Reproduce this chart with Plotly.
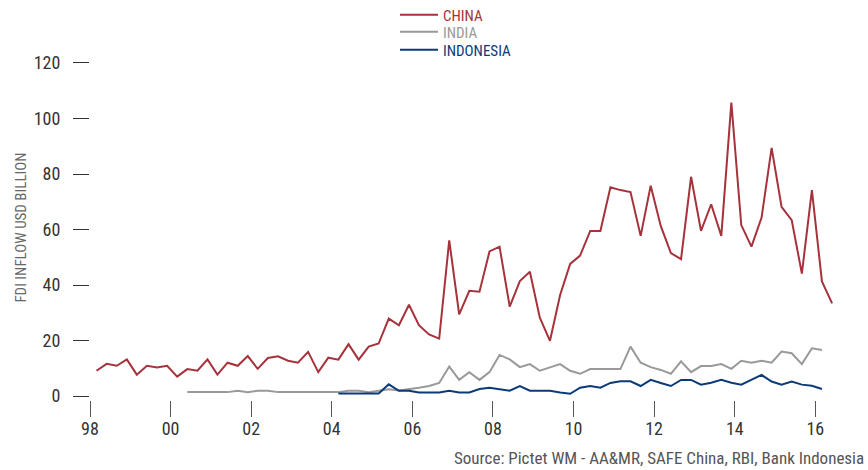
import pandas as pd
import plotly.graph_objects as go

# Quarterly observations, 1998Q1 .. 2016Q2
dates = pd.date_range(start="1998-03-01", periods=74, freq="3MS")

china = [9.1, 11.6, 10.9, 13.2, 7.7, 10.9, 10.3, 10.9, 7.0, 9.7,
         9.1, 13.2, 7.7, 12.0, 10.9, 14.4, 9.8, 13.7, 14.3, 12.7,
         12.0, 15.9, 8.6, 13.8, 13.1, 18.7, 13.1, 17.8, 18.9, 27.9,
         25.5, 32.9, 25.5, 22.2, 20.7, 56.1, 29.4, 37.9, 37.6, 52.1,
         53.8, 32.2, 41.4, 44.8, 28.2, 19.9, 36.4, 47.6, 50.6, 59.5,
         59.5, 75.2, 74.2, 73.5, 57.7, 75.8, 61.3, 51.5, 49.3, 79.0,
         59.5, 69.1, 57.7, 105.7, 61.6, 53.8, 64.3, 89.4, 68.2, 63.4,
         44.1, 74.2, 41.3, 33.4]

# India starts 2000Q2 (index 9), ends 2016Q1 (index 72)
india = [None] * 9 + [
    1.4, 1.4, 1.4, 1.4, 1.4, 1.9, 1.4, 1.9, 1.9, 1.4,
    1.4, 1.4, 1.4, 1.4, 1.4, 1.4, 1.9, 1.9, 1.4, 1.9,
    2.4, 2.0, 2.4, 3.0, 3.6, 4.7, 10.6, 5.8, 8.6, 5.8,
    8.6, 14.8, 13.2, 10.4, 11.5, 9.1, 10.3, 11.5, 9.1, 8.0,
    9.7, 9.7, 9.7, 9.7, 17.8, 12.0, 10.4, 9.4, 8.0, 12.5,
    8.6, 10.8, 10.8, 11.5, 9.8, 12.7, 12.0, 12.7, 12.0, 16.0,
    15.4, 11.5, 17.2, 16.6] + [None]

# Indonesia starts 2004Q1 (index 24), ends 2016Q1 (index 72)
indonesia = [None] * 24 + [
    0.9, 0.9, 0.9, 0.9, 0.9, 4.2, 1.9, 1.9, 1.3, 1.3,
    1.3, 1.9, 1.3, 1.3, 2.5, 3.0, 2.5, 1.9, 3.6, 1.9,
    1.9, 1.9, 1.3, 0.8, 3.0, 3.6, 3.0, 4.7, 5.3, 5.3,
    3.6, 5.8, 4.7, 3.6, 5.8, 5.8, 4.1, 4.8, 5.8, 4.8,
    4.1, 5.8, 7.6, 5.2, 4.1, 5.2, 4.1, 3.7, 2.5] + [None]

series_names = ["CHINA", "INDIA", "INDONESIA"]
y_ticks = [0, 20, 40, 60, 80, 100, 120]
x_tick_vals = ["1998-01-01", "2000-01-01", "2002-01-01", "2004-01-01", "2006-01-01",
               "2008-01-01", "2010-01-01", "2012-01-01", "2014-01-01", "2016-01-01"]
x_tick_text = ["98", "00", "02", "04", "06", "08", "10", "12", "14", "16"]

C_CHINA = "#A6323C"
C_INDIA = "#999999"
C_INDO = "#0B3A78"
FONT = "Roboto Condensed, DejaVu Sans Condensed, sans-serif"

# plot area in pixels: x 90..860, y 55..400
L, R, T, B = 90, 860, 55, 400
W, H = R - L, B - T


def px_x(px):
    return (px - L) / W


def px_y(py):
    return (B - py) / H


fig = go.Figure()
legend_rows = [15, 32, 50]
legend_ids = ["legend", "legend2", "legend3"]
for name, vals, col, lid in zip(series_names, [china, india, indonesia],
                                [C_CHINA, C_INDIA, C_INDO], legend_ids):
    fig.add_trace(go.Scatter(
        x=dates, y=vals, mode="lines",
        name=f"<span style='color:{col}'>{name}</span>",
        line=dict(color=col, width=2),
        connectgaps=False, legend=lid,
    ))

legend_common = dict(
    xanchor="left", yanchor="middle", bgcolor="rgba(0,0,0,0)",
    font=dict(size=15, family=FONT), itemwidth=38, borderwidth=0,
)
layout_legends = {}
for lid, row in zip(legend_ids, legend_rows):
    layout_legends[lid] = dict(x=px_x(395), y=px_y(row), **legend_common)

fig.update_layout(
    width=868, height=470,
    margin=dict(l=L, r=868 - R, t=T, b=470 - B, autoexpand=False),
    paper_bgcolor="white", plot_bgcolor="white",
    font=dict(family=FONT, size=18, color="#333333"),
    showlegend=True,
    **layout_legends,
    xaxis=dict(
        type="date",
        range=["1998-01-01", "2017-02-09"],
        tickvals=x_tick_vals, ticktext=x_tick_text,
        ticks="outside", ticklen=16, tickwidth=1, tickcolor="#555555",
        showgrid=False, zeroline=False, showline=False,
        tickfont=dict(size=18, color="#333333"),
        ticklabelstandoff=-4,
    ),
    yaxis=dict(
        range=[-1.44, 122.88],
        tickvals=y_ticks,
        ticks="outside", ticklen=16, tickwidth=1, tickcolor="#333333",
        showgrid=False, zeroline=False, showline=False,
        tickfont=dict(size=18, color="#333333"),
        ticklabelstandoff=9,
        title=dict(text="FDI INFLOW USD BILLION", font=dict(size=15, color="#666666"),
                   standoff=3),
    ),
)

fig.add_annotation(
    text="Source: Pictet WM - AA&MR, SAFE China, RBI, Bank Indonesia",
    xref="paper", yref="paper", x=px_x(866), y=px_y(458),
    xanchor="right", yanchor="middle", showarrow=False,
    font=dict(size=17, color="#555555", family=FONT),
)

fig.write_html("out.html")
